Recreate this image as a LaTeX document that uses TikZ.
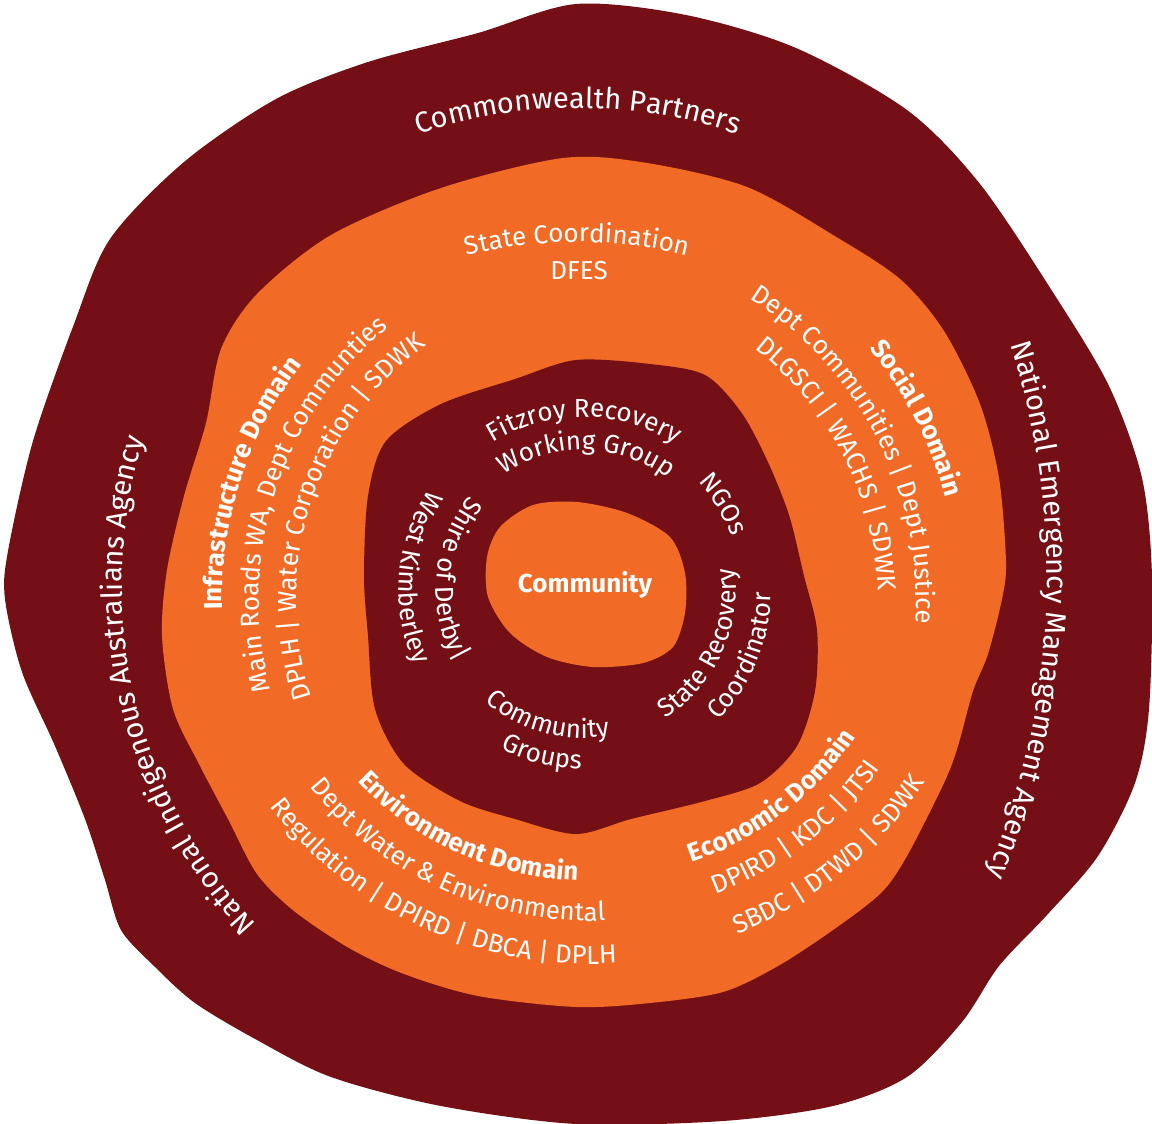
\documentclass[tikz,border=0pt]{standalone}
\usepackage{fontspec}
\setmainfont{Fira Sans}
\usetikzlibrary{decorations.text}

\definecolor{darkred}{HTML}{741015}
\definecolor{ringorange}{HTML}{F26B26}

\newcommand\outersize{\fontsize{29}{34}\selectfont}
\newcommand\ringsize{\fontsize{26}{30}\selectfont}

\tikzset{
  arclabel/.style 2 args={decorate, decoration={text along path, text align=center,
      text color=white, text format delimiters={[}{]}, text={[#1]#2}}},
}

\begin{document}
\begin{tikzpicture}[x=1pt,y=1pt]
    \useasboundingbox (0,0) rectangle (1152,-1124);
    % 外圈
    \fill[darkred] plot[smooth cycle] coordinates {(576,-4) (686,-15) (796,-48) (907,-110) (980,-184)
      (1054,-294) (1109,-386) (1142,-478) (1152,-576) (1149,-709) (1135,-783) (1098,-856) (1047,-915)
      (999,-966) (962,-1022) (907,-1077) (833,-1106) (723,-1121) (576,-1124) (441,-1106) (331,-1077)
      (257,-1040) (195,-1003) (154,-966) (121,-930) (105,-880) (85,-819) (55,-746) (22,-672) (5,-599)
      (8,-551) (33,-441) (74,-324) (110,-239) (184,-162) (276,-99) (368,-62) (478,-33)};
    % 橙色环
    \fill[ringorange] plot[smooth cycle] coordinates {(563,-158) (647,-163) (747,-187) (833,-235)
      (900,-279) (944,-331) (980,-404) (999,-478) (1006,-562) (1002,-599) (988,-654) (973,-691)
      (958,-746) (944,-783) (907,-856) (881,-893) (833,-930) (778,-966) (723,-992) (650,-1003)
      (576,-1007) (478,-996) (404,-974) (349,-948) (294,-911) (257,-874) (228,-819) (199,-764)
      (173,-709) (162,-636) (167,-570) (184,-496) (206,-423) (221,-349) (257,-294) (331,-235)
      (441,-188)};
    % 内圈
    \fill[darkred] plot[smooth cycle] coordinates {(576,-360) (650,-364) (705,-375) (741,-412)
      (767,-460) (789,-515) (804,-576) (817,-630) (815,-691) (797,-746) (760,-783) (705,-801)
      (631,-819) (576,-834) (515,-819) (460,-801) (404,-764) (375,-709) (368,-636) (364,-576)
      (368,-496) (386,-441) (441,-404) (515,-379)};
    % 中心
    \fill[ringorange] plot[smooth cycle] coordinates {(533,-505) (577,-502) (627,-513) (670,-537)
      (685,-573) (685,-613) (673,-647) (643,-663) (593,-667) (547,-657) (510,-633) (488,-597)
      (487,-557) (500,-527)};
    \node[font=\ringsize\bfseries, text=white] (community) at (585,-585) {Community};

    % 外圈文字
    \path[arclabel={\outersize}{Commonwealth Partners}] (578,-605) ++(115:497) arc[start angle=115, end angle=65, radius=497];
    \path[arclabel={\outersize}{National Emergency Management Agency}] (285,-578) ++(20:762) arc[start angle=20, end angle=-25, radius=762];
    \path[arclabel={\outersize}{National Indigenous Australians Agency}] (618,-585) ++(228:496) arc[start angle=228, end angle=158, radius=496];

    % 橙色环文字
    \path[arclabel={\ringsize}{State Coordination}] (577,-692) ++(115:450) arc[start angle=115, end angle=65, radius=450];
    \node[font=\ringsize, text=white] (dfes) at (579,-271) {DFES};
    \path[arclabel={\ringsize\bfseries}{Infrastructure Domain}] (610,-600) ++(212:388) arc[start angle=212, end angle=112, radius=388];
    \path[arclabel={\ringsize}{Main Roads WA, Dept Communties}] (610,-600) ++(212:351) arc[start angle=212, end angle=112, radius=351];
    \path[arclabel={\ringsize}{DPLH | Water Corporation | SDWK}] (610,-600) ++(212:314) arc[start angle=212, end angle=112, radius=314];
    \path[arclabel={\ringsize\bfseries}{Social Domain}] (560,-600) ++(67:399) arc[start angle=67, end angle=-13, radius=399];
    \path[arclabel={\ringsize}{Dept Communities | Dept Justice}] (560,-600) ++(70:356) arc[start angle=70, end angle=-16, radius=356];
    \path[arclabel={\ringsize}{DLGSCI | WACHS | SDWK}] (560,-600) ++(70:318) arc[start angle=70, end angle=-16, radius=318];
    \path[arclabel={\ringsize\bfseries}{Environment Domain}] (590,-560) ++(190:321) arc[start angle=190, end angle=301.4, radius=321];
    \path[arclabel={\ringsize}{Dept Water {\&} Environmental}] (590,-560) ++(190:361) arc[start angle=190, end angle=301.4, radius=361];
    \path[arclabel={\ringsize}{Regulation | DPIRD | DBCA | DPLH}] (590,-560) ++(190:404) arc[start angle=190, end angle=301.4, radius=404];
    \path[arclabel={\ringsize\bfseries}{Economic Domain}] (590,-560) ++(262:319) arc[start angle=262, end angle=353, radius=319];
    \path[arclabel={\ringsize}{DPIRD | KDC | JTSI}] (590,-560) ++(262:357) arc[start angle=262, end angle=353, radius=357];
    \path[arclabel={\ringsize}{SBDC | DTWD | SDWK}] (590,-560) ++(264:402) arc[start angle=264, end angle=354, radius=402];

    % 内圈文字
    \path[arclabel={\ringsize}{Fitzroy Recovery}] (583,-590) ++(140:173) arc[start angle=140, end angle=39, radius=173];
    \path[arclabel={\ringsize}{Working Group}] (583,-590) ++(148:140) arc[start angle=148, end angle=29, radius=140];
    \path[arclabel={\ringsize}{NGOs}] (583,-590) ++(61:158) arc[start angle=61, end angle=2, radius=158];
    \path[arclabel={\ringsize}{State Recovery}] (583,-590) ++(-80:153) arc[start angle=-80, end angle=31, radius=153];
    \path[arclabel={\ringsize}{Coordinator}] (583,-590) ++(-70:188) arc[start angle=-70, end angle=25, radius=188];
    \path[arclabel={\ringsize}{Community}] (583,-590) ++(200:148) arc[start angle=200, end angle=309, radius=148];
    \path[arclabel={\ringsize}{Groups}] (583,-590) ++(215:179) arc[start angle=215, end angle=297, radius=179];
    \path[arclabel={\ringsize}{Shire of Derby|}] (583,-590) ++(120:147) arc[start angle=120, end angle=230, radius=147];
    \path[arclabel={\ringsize}{West Kimberley}] (583,-590) ++(125:184) arc[start angle=125, end angle=226, radius=184];
\end{tikzpicture}
\end{document}
